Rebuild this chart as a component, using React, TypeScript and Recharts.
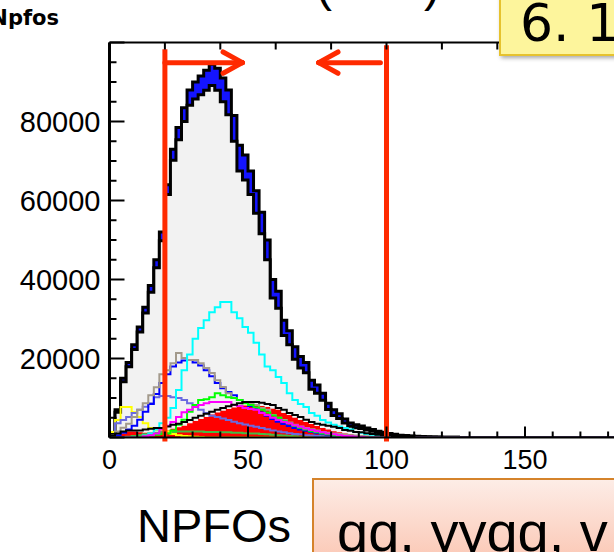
import React from "react";
import { ComposedChart, Area, Line, XAxis, YAxis, ReferenceLine } from "recharts";

// bin width 2, lower edges 0..198
const binWidth = 2;
const nBins = 100;

const totalCounts = [
  1000, 7000, 15000, 19000, 23500, 28000, 33000, 38500, 45000, 52000,
  64000, 73000, 78500, 83500, 88000, 90000, 91500, 93000, 94500, 93500,
  91000, 88000, 81500, 74000, 71500, 67500, 62500, 57000, 50000, 40000,
  37000, 29700, 27000, 23000, 20500, 19000, 14500, 13300, 11200, 8700,
  7000, 6000, 4700, 3700, 3200, 2900, 2400, 2000, 1600, 1300,
  1000, 800, 600, 500, 400, 300, 250, 200, 150, 100, 80, 60, 40, 20,
];
const blueBand = [
  300, 600, 900, 1100, 1200, 1300, 1500, 1700, 2000, 2200,
  2500, 2800, 3100, 3500, 3900, 4300, 4700, 5100, 5400, 5600,
  6000, 6300, 6500, 6500, 6300, 6000, 5700, 5400, 5000, 4700,
  4300, 3900, 3500, 3200, 2900, 2600, 2300, 2100, 1800, 1600,
  1400, 1200, 1000, 850, 700, 600, 500, 420, 350, 300, 250, 200, 150, 120, 100, 80, 60, 50, 40, 30,
];
const cyanCounts = [
  0, 0, 0, 0, 0, 0, 500, 1000, 2000, 3600,
  5000, 7500, 12000, 17000, 21000, 25000, 27700, 29700, 31700, 33000,
  34300, 34300, 31700, 30200, 28000, 26500, 24000, 21000, 18000, 17000,
  15300, 13800, 11200, 9500, 8500, 7700, 6200, 5500, 4400, 3800,
  3200, 2800, 2400, 2000, 1400, 1200, 900, 700, 500, 400, 300, 200, 100,
];
const taupeCounts = [
  500, 1500, 2500, 3500, 5200, 7000, 8700, 10700, 12700, 16000,
  17000, 18800, 21400, 20100, 19600, 19600, 18800, 17600, 16300, 14500,
  12800, 11200, 10000, 9500, 9000, 8700, 8200, 7500, 7000, 5700,
  5000, 4400, 3800, 3200, 2800, 2400, 2100, 1800, 1400, 1200,
  1000, 900, 700, 600, 500, 400, 300, 200, 100,
];
const blueCounts = [
  200, 600, 1200, 2000, 3000, 4500, 6500, 8500, 11000, 13800,
  16000, 18000, 19000, 19500, 19600, 19000, 18200, 17000, 15500, 13800,
  12500, 11500, 10700, 9500, 8800, 8000, 7200, 6300, 5500, 4700,
  4000, 3400, 2900, 2400, 2000, 1700, 1400, 1100, 900, 700,
  600, 450, 300, 200, 100,
];
const slateCounts = [
  400, 3600, 4400, 5200, 6200, 7000, 7800, 8700, 10200, 10500,
  10500, 10200, 10000, 9500, 8700, 7700, 7000, 6200, 5500, 5200,
  4800, 4400, 4000, 3600, 3300, 3000, 2700, 2400, 2100, 1800,
  1500, 1300, 1100, 900, 800, 600, 500, 400, 300, 200, 100,
];
const yellowCounts = [
  1400, 4400, 7700, 7700, 6400, 5200, 3600, 2400, 1900, 1900,
  1500, 900, 600, 400, 300, 200, 100,
];
const greenCounts = [
  0, 0, 0, 0, 0, 200, 300, 500, 700, 900,
  1000, 1800, 3200, 4500, 6500, 8200, 9500, 9700, 10200, 11200,
  10700, 10200, 10000, 9500, 8700, 8200, 7600, 7000, 6300, 5600,
  5000, 4200, 3600, 3000, 2500, 2000, 1600, 1300, 1000, 800, 600, 400, 300, 200, 100,
];
const magentaCounts = [
  0, 0, 0, 0, 0, 0, 300, 600, 1000, 2000,
  3000, 3900, 5200, 6400, 7000, 7700, 8200, 8700, 9000, 9000,
  9000, 9000, 8200, 8000, 7500, 7200, 7000, 6200, 5700, 5000,
  4400, 4000, 3600, 3100, 2700, 2300, 1900, 1600, 1300, 1000, 800, 600, 400, 300, 200, 100,
];
const redCounts = [
  300, 600, 1000, 1500, 1500, 1300, 1200, 1200, 1300, 1500,
  1800, 2200, 2600, 3000, 3600, 4200, 4700, 5200, 5800, 6300,
  6800, 7200, 7600, 7900, 8100, 8200, 8200, 8000, 7700, 7300,
  7000, 6200, 5700, 5000, 4400, 3900, 3400, 2900, 2400, 2000,
  1600, 1300, 1000, 800, 600, 400, 300, 200, 100,
];
const blackCounts = [
  500, 1000, 1500, 1800, 1800, 1800, 2000, 2200, 2400, 2400,
  2800, 3200, 3500, 3900, 4400, 5000, 5500, 6000, 6500, 7000,
  7500, 7900, 8300, 8700, 9000, 9000, 9000, 8800, 8500, 8200,
  7500, 7000, 6200, 5700, 5200, 4500, 3900, 3500, 3200, 3000,
  2700, 2400, 1900, 1700, 1400, 1300, 1100, 900, 700, 600, 500, 400, 300, 200, 100,
];
const yellowLowCounts = [
  0, 0, 0, 0, 200, 400, 600, 700, 800, 900,
  900, 1000, 1000, 1000, 1000, 1000, 1000, 1000, 900, 900,
  900, 900, 800, 800, 800, 700, 700, 600, 600, 500,
  500, 400, 400, 300, 300, 200, 200, 100,
];
const greenLowCounts = [
  0, 0, 0, 200, 400, 600, 800, 1000, 1200, 1300,
  1400, 1400, 1500, 1500, 1500, 1500, 1500, 1400, 1400, 1400,
  1300, 1300, 1200, 1200, 1100, 1000, 1000, 900, 800, 700, 600, 500, 400, 300, 200,
];

const xTicks = [0, 10, 20, 30, 40, 50, 60, 70, 80, 90, 100, 110, 120, 130, 140, 150, 160, 170, 180, 190, 200];
const yTicks = [0, 5000, 10000, 15000, 20000, 25000, 30000, 35000, 40000, 45000, 50000, 55000, 60000, 65000, 70000, 75000, 80000, 85000, 90000, 95000, 100000];

const cutLow = 20;
const cutHigh = 100;

const v = (arr: number[], i: number) => arr[i] ?? 0;

const data = Array.from({ length: nBins + 1 }, (_, i) => ({
  x: i * binWidth,
  total: v(totalCounts, i),
  gray: v(totalCounts, i) - v(blueBand, i),
  cyan: v(cyanCounts, i),
  taupe: v(taupeCounts, i),
  blue: v(blueCounts, i),
  slate: v(slateCounts, i),
  yellow: v(yellowCounts, i),
  green: v(greenCounts, i),
  magenta: v(magentaCounts, i),
  red: v(redCounts, i),
  black: v(blackCounts, i),
  yellowLow: v(yellowLowCounts, i),
  greenLow: v(greenLowCounts, i),
}));

const tickFont = "Liberation Sans, Arial, sans-serif";

const YTick = ({ x, y, payload }: any) => {
  const val = payload.value as number;
  const major = val % 20000 === 0;
  return (
    <g>
      <line x1={x} y1={y} x2={x + (major ? 15 : 7)} y2={y} stroke="#000" strokeWidth={2} />
      {major && val > 0 && val < 100000 && (
        <text x={x - 9} y={y} dy="0.36em" textAnchor="end" fontFamily={tickFont} fontSize={29} fill="#000">
          {val}
        </text>
      )}
    </g>
  );
};

const XTick = ({ x, y, payload }: any) => {
  const val = payload.value as number;
  const major = val % 50 === 0;
  return (
    <g>
      <line x1={x} y1={y} x2={x} y2={y - (major ? 11 : 6)} stroke="#000" strokeWidth={2} />
      {major && val < 200 && (
        <text x={x} y={y + 31} textAnchor="middle" fontFamily={tickFont} fontSize={27} fill="#000">
          {val}
        </text>
      )}
    </g>
  );
};

const TopTick = ({ x, y }: any) => <line x1={x} y1={y} x2={x} y2={y + 7} stroke="#000" strokeWidth={2} />;

const arrowY = 94900;
const red = "#ff2a00";

export default function App() {
  const line = (key: string, color: string, width = 2) => (
    <Line
      key={key}
      type="stepAfter"
      dataKey={key}
      stroke={color}
      strokeWidth={width}
      dot={false}
      isAnimationActive={false}
    />
  );

  return (
    <div style={{ position: "fixed", left: 0, top: 0, width: 614, height: 552, overflow: "hidden", background: "#fff" }}>
      <ComposedChart
        width={700}
        height={552}
        data={data}
        margin={{ top: 32.5, left: 9.5, right: 36.5, bottom: 74.5 }}
      >
        <XAxis
          dataKey="x"
          type="number"
          domain={[0, 200]}
          ticks={xTicks}
          interval={0}
          height={40}
          tickSize={0}
          tickMargin={0}
          tickLine={false}
          axisLine={{ stroke: "#000", strokeWidth: 2 }}
          tick={<XTick />}
          allowDataOverflow
        />
        <XAxis
          xAxisId="top"
          orientation="top"
          type="number"
          domain={[0, 200]}
          ticks={xTicks}
          interval={0}
          height={10}
          tickSize={0}
          tickMargin={0}
          tickLine={false}
          axisLine={{ stroke: "#000", strokeWidth: 2 }}
          tick={<TopTick />}
        />
        <YAxis
          type="number"
          domain={[0, 100000]}
          ticks={yTicks}
          interval={0}
          width={100}
          tickSize={0}
          tickMargin={0}
          tickLine={false}
          axisLine={{ stroke: "#000", strokeWidth: 3 }}
          tick={<YTick />}
          allowDataOverflow
        />

        <Area type="stepAfter" dataKey="total" stroke="#000" strokeWidth={3} fill="#1414ff" fillOpacity={1} isAnimationActive={false} />
        <Area type="stepAfter" dataKey="gray" stroke="#000" strokeWidth={3} fill="#f2f2f2" fillOpacity={1} isAnimationActive={false} />
        <Area type="stepAfter" dataKey="yellowLow" stroke="none" fill="#ffff00" fillOpacity={1} isAnimationActive={false} />
        <Area type="stepAfter" dataKey="red" stroke="none" fill="#ff0000" fillOpacity={1} isAnimationActive={false} />
        {line("greenLow", "#44bb44")}
        {line("yellow", "#ffff00")}
        {line("slate", "#6a6ae0")}
        {line("blue", "#0000ff")}
        {line("taupe", "#a39a8c")}
        {line("cyan", "#00ffff")}
        {line("green", "#00ff00")}
        {line("magenta", "#ff00ff")}
        {line("black", "#000000")}

        <ReferenceLine segment={[{ x: cutLow, y: -1000 }, { x: cutLow, y: 98300 }]} stroke={red} strokeWidth={5} ifOverflow="visible" />
        <ReferenceLine segment={[{ x: cutHigh, y: -1000 }, { x: cutHigh, y: 99300 }]} stroke={red} strokeWidth={5} ifOverflow="visible" />
        <ReferenceLine segment={[{ x: cutLow, y: arrowY }, { x: 48, y: arrowY }]} stroke={red} strokeWidth={5} strokeLinecap="round" ifOverflow="visible" />
        <ReferenceLine segment={[{ x: 41, y: 97600 }, { x: 48, y: arrowY }]} stroke={red} strokeWidth={5} strokeLinecap="round" ifOverflow="visible" />
        <ReferenceLine segment={[{ x: 41, y: 92200 }, { x: 48, y: arrowY }]} stroke={red} strokeWidth={5} strokeLinecap="round" ifOverflow="visible" />
        <ReferenceLine segment={[{ x: 97.8, y: arrowY }, { x: 75.5, y: arrowY }]} stroke={red} strokeWidth={5} strokeLinecap="round" ifOverflow="visible" />
        <ReferenceLine segment={[{ x: 82.5, y: 97600 }, { x: 75.5, y: arrowY }]} stroke={red} strokeWidth={5} strokeLinecap="round" ifOverflow="visible" />
        <ReferenceLine segment={[{ x: 82.5, y: 92200 }, { x: 75.5, y: arrowY }]} stroke={red} strokeWidth={5} strokeLinecap="round" ifOverflow="visible" />
      </ComposedChart>

      <svg width={614} height={552} style={{ position: "absolute", left: 0, top: 0, pointerEvents: "none" }}>
        <defs>
          <linearGradient id="peach" x1="0" y1="0" x2="0" y2="1">
            <stop offset="0" stopColor="#fdede7" />
            <stop offset="1" stopColor="#fbc4b0" />
          </linearGradient>
          <filter id="shadow" x="-10%" y="-10%" width="130%" height="130%">
            <feDropShadow dx="2" dy="2" stdDeviation="2" floodOpacity="0.35" />
          </filter>
        </defs>
        <text x={59} y={25} textAnchor="end" fontFamily="DejaVu Sans, sans-serif" fontWeight="bold" fontSize={21}>
          Npfos
        </text>
        <text x={316} y={1} fontFamily={tickFont} fontSize={48}>(</text>
        <text x={424} y={1} fontFamily={tickFont} fontSize={48}>)</text>
        <rect x={500} y={-10} width={130} height={65} fill="#fdf59c" stroke="#e6c22e" strokeWidth={2} filter="url(#shadow)" />
        <text x={520} y={41} fontFamily="DejaVu Sans, sans-serif" fontSize={52} fill="#000">
          6. 1
        </text>
        <text x={137} y={542} fontFamily={tickFont} fontSize={47} fill="#000">
          NPFOs
        </text>
        <rect x={313} y={479} width={320} height={90} fill="url(#peach)" stroke="#d5832b" strokeWidth={2} />
        <text x={337} y={551} fontFamily={tickFont} fontSize={56} fill="#000">
          qq, yyqq, v
        </text>
      </svg>
    </div>
  );
}
